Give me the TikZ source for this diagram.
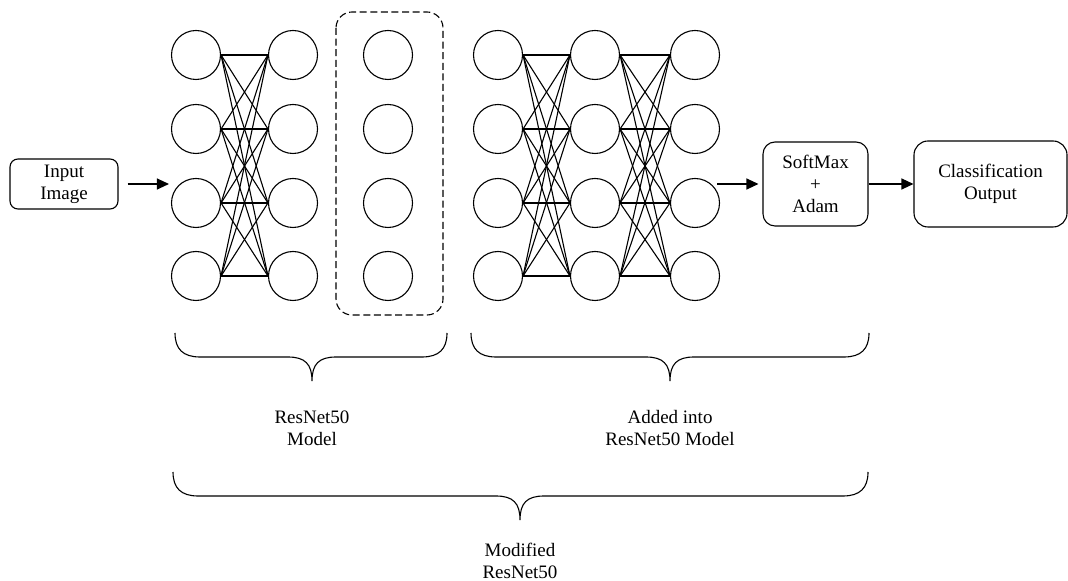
\documentclass[tikz,border=0pt]{standalone}
\usepackage{fontspec}
\setmainfont{Liberation Serif}
\usetikzlibrary{arrows.meta}

% curly brace opening downwards: left x, right x, tip x, top y
\newcommand{\hbrace}[4]{%
  \draw (#1,#4) .. controls (#1,#4+16) and (#1+8,#4+24) .. (#1+25,#4+24)
    -- (#3-24,#4+24) .. controls (#3-7,#4+24) and (#3,#4+31) .. (#3,#4+48)
    .. controls (#3,#4+31) and (#3+7,#4+24) .. (#3+24,#4+24)
    -- (#2-25,#4+24) .. controls (#2-8,#4+24) and (#2,#4+16) .. (#2,#4);}

\begin{document}
\begin{tikzpicture}[x=0.5pt, y=-0.5pt, line width=0.55pt,
  neuron/.style={draw, circle, minimum size=24.5pt, inner sep=0pt},
  block/.style={draw, rounded corners=6pt, align=center, inner sep=0pt,
    font=\fontsize{9.5}{11}\selectfont},
  label text/.style={align=center, font=\fontsize{9.5}{11}\selectfont},
  arrow/.style={-{Triangle[length=6pt, width=5.5pt]}}]

  % Fix the page size
  \useasboundingbox (0,0) rectangle (1068,581);

  % Layers of neurons
  \foreach \c/\x in {1/196, 2/293, 3/388, 4/498, 5/595, 6/695}
    \foreach \r/\y in {1/55, 2/129, 3/203, 4/276}
      \node[neuron] (L\c-\r) at (\x,\y) {};

  % Full connections between layers
  \foreach \a/\b in {1/2, 4/5, 5/6}
    \foreach \i in {1,...,4}
      \foreach \j in {1,...,4}
        \draw (L\a-\i.east) -- (L\b-\j.west);

  % Dashed frame round the third layer
  \draw[dash pattern=on 3.5pt off 1.8pt, rounded corners=8pt] (336,12) rectangle (443,315);

  % Boxes
  \node[block, rounded corners=4pt, minimum width=54pt, minimum height=25pt] (input) at (64,184) {Input\\Image};
  \node[block, minimum width=52.5pt, minimum height=42pt] (soft) at (815.5,184) {SoftMax\\+\\Adam};
  \node[block, rounded corners=7pt, minimum width=76.5pt, minimum height=43pt] (output) at (990.5,184) {Classification\\Output};

  % Arrows
  \coordinate (netout) at (717,184);
  \draw[arrow, shorten <=4.5pt, shorten >=1pt] (input.east) -- (L1-3.west |- input.east);
  \draw[arrow, shorten >=2pt] (netout) -- (soft.west);
  \draw[arrow] (soft.east) -- (output.west);

  % Braces
  \hbrace{175}{447}{312}{333}
  \hbrace{471}{869}{670}{333}
  \hbrace{173}{868}{520}{472}

  % Brace labels
  \node[label text] (base) at (312,428) {ResNet50\\Model};
  \node[label text] (added) at (670,428) {Added into\\ResNet50 Model};
  \node[label text] (modified) at (520,561) {Modified\\ResNet50};

\end{tikzpicture}
\end{document}
